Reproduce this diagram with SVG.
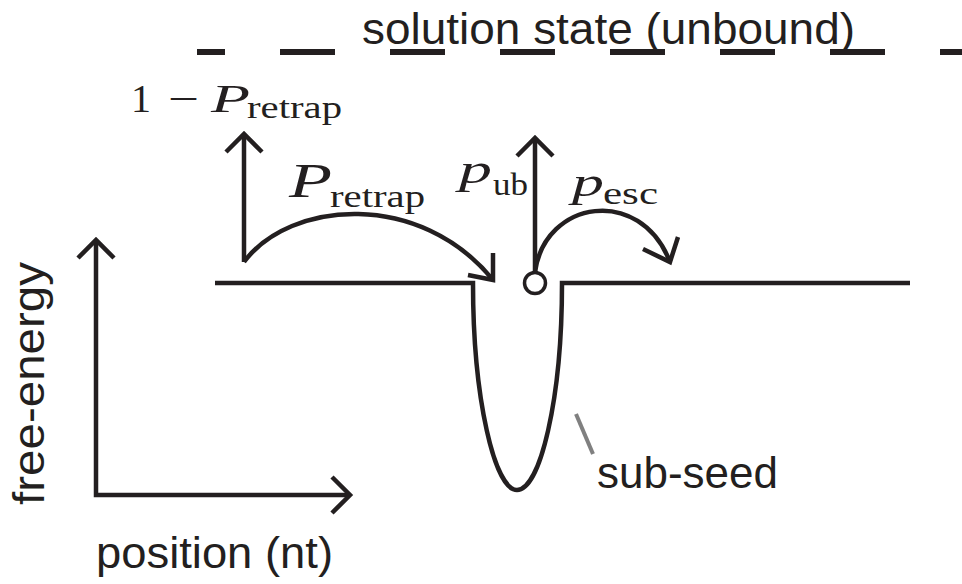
<svg xmlns="http://www.w3.org/2000/svg" width="962" height="584" viewBox="0 0 962 584">
<style>
.ln{fill:none;stroke:#231f20;stroke-width:4.5;stroke-linecap:butt;stroke-linejoin:miter}
.sans{font-family:"Liberation Sans",Arial,sans-serif;fill:#231f20}
.mi{font-family:"Liberation Serif","Times New Roman",serif;font-style:italic;fill:#231f20}
.mr{font-family:"Liberation Serif","Times New Roman",serif;fill:#231f20}
</style>
<rect width="962" height="584" fill="#fff"/>
<g id="solution-state">
<line x1="197" y1="52" x2="225" y2="52" stroke="#231f20" stroke-width="6"/>
<line x1="280" y1="52" x2="962" y2="52" stroke="#231f20" stroke-width="6" stroke-dasharray="55 55"/>
<text class="sans" x="362" y="44" font-size="44" textLength="493" lengthAdjust="spacingAndGlyphs">solution state (unbound)</text>
</g>
<g id="axes">
<path class="ln" d="M96,240 V495 H350"/>
<path class="ln" d="M78,258 L96,240 L114,258"/>
<path class="ln" d="M332,477 L350,495 L332,513"/>
<text class="sans" font-size="44" transform="translate(44,505) rotate(-90)" textLength="243" lengthAdjust="spacingAndGlyphs">free-energy</text>
<text class="sans" x="96" y="568" font-size="44" textLength="237" lengthAdjust="spacingAndGlyphs">position (nt)</text>
</g>
<g id="landscape">
<path class="ln" d="M215,283 H473 C473,400 495,490 517,490 C540,490 562,400 562,283 H910"/>
<circle cx="535" cy="283" r="10.5" fill="#fff" stroke="#231f20" stroke-width="3.5"/>
</g>
<g id="sub-seed">
<line x1="576" y1="414" x2="593" y2="454" stroke="#808080" stroke-width="4"/>
<text class="sans" x="597" y="488" font-size="44" textLength="181" lengthAdjust="spacingAndGlyphs">sub-seed</text>
</g>
<g id="connectors">
<path class="ln" d="M244,262 V134"/>
<path class="ln" d="M226,152 L244,134 L262,152"/>
<path class="ln" d="M244,262 C290,200 420,190 493,280"/>
<path class="ln" d="M468,275 L493,280 L493,253"/>
<path class="ln" d="M535,272 V138"/>
<path class="ln" d="M517,156 L535,138 L553,156"/>
<path class="ln" d="M535,272 C545,200 640,185 670,262"/>
<path class="ln" d="M643,249 L670,262 L678,237"/>
</g>
<g id="labels">
<text class="mr" x="131" y="112" font-size="40">1</text>
<text class="mr" x="168" y="112" font-size="40" textLength="31" lengthAdjust="spacingAndGlyphs">−</text>
<text class="mi" x="211" y="112" font-size="40" textLength="39" lengthAdjust="spacingAndGlyphs">P</text>
<text class="mr" x="247" y="118" font-size="32" textLength="95" lengthAdjust="spacingAndGlyphs">retrap</text>
<text class="mi" x="289" y="197" font-size="49" textLength="43" lengthAdjust="spacingAndGlyphs">P</text>
<text class="mr" x="330" y="207" font-size="32" textLength="95" lengthAdjust="spacingAndGlyphs">retrap</text>
<text class="mi" x="459" y="183" font-size="42" textLength="33" lengthAdjust="spacingAndGlyphs">p</text>
<text class="mr" x="493" y="195" font-size="32" textLength="35" lengthAdjust="spacingAndGlyphs">ub</text>
<text class="mi" x="572" y="196" font-size="42" textLength="32" lengthAdjust="spacingAndGlyphs">p</text>
<text class="mr" x="603" y="204" font-size="32" textLength="55" lengthAdjust="spacingAndGlyphs">esc</text>
</g>
</svg>
